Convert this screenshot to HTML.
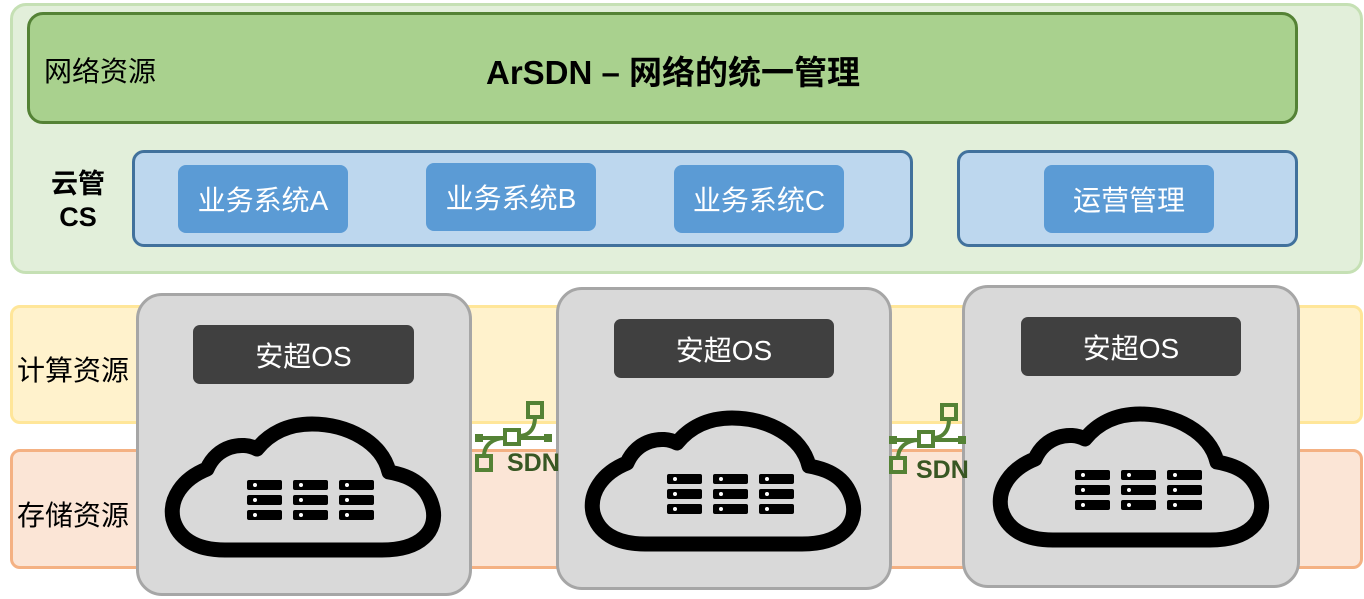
<!DOCTYPE html>
<html><head><meta charset="utf-8"><style>
body{margin:0;width:1364px;height:599px;background:#fff;position:relative;overflow:hidden;font-family:"Liberation Sans","Noto Sans CJK SC",sans-serif}
div{position:absolute;box-sizing:border-box}
.btn{background:#5b9bd5;border-radius:8px;color:#fff;font-size:28px;display:flex;align-items:center;justify-content:center}
.gray{background:#d9d9d9;border:3px solid #a6a6a6;border-radius:26px}
.os{background:#404040;border-radius:7px;color:#fff;font-size:28px;display:flex;align-items:center;justify-content:center}
.lbl{font-size:28px;color:#000}
</style></head><body>
<div style="left:10px;top:3px;width:1353px;height:271px;background:#e2efda;border:3px solid #c5e0b4;border-radius:16px"></div>
<div style="left:27px;top:12px;width:1271px;height:112px;background:#a9d18e;border:3px solid #548235;border-radius:16px"></div>
<div class="lbl" style="left:44px;top:50px">网络资源</div>
<div style="left:486px;top:46px;font-size:33px;font-weight:bold">ArSDN – 网络的统一管理</div>
<div style="left:46px;top:168px;font-size:27px;font-weight:bold;text-align:center;line-height:33px;width:64px">云管<br>CS</div>
<div style="left:132px;top:150px;width:781px;height:97px;background:#bdd7ee;border:3px solid #41719c;border-radius:12px"></div>
<div style="left:957px;top:150px;width:341px;height:97px;background:#bdd7ee;border:3px solid #41719c;border-radius:12px"></div>
<div class="btn" style="left:178px;top:165px;width:170px;height:68px">业务系统A</div>
<div class="btn" style="left:426px;top:163px;width:170px;height:68px">业务系统B</div>
<div class="btn" style="left:674px;top:165px;width:170px;height:68px">业务系统C</div>
<div class="btn" style="left:1044px;top:165px;width:170px;height:68px">运营管理</div>
<div style="left:10px;top:305px;width:1353px;height:119px;background:#fff2cc;border:3px solid #ffe699;border-radius:10px"></div>
<div style="left:10px;top:449px;width:1353px;height:120px;background:#fbe5d6;border:3px solid #f4b183;border-radius:10px"></div>
<div class="lbl" style="left:17px;top:349px">计算资源</div>
<div class="lbl" style="left:17px;top:494px">存储资源</div>
<div class="gray" style="left:136px;top:293px;width:336px;height:303px"></div>
<div class="gray" style="left:556px;top:287px;width:336px;height:303px"></div>
<div class="gray" style="left:962px;top:285px;width:338px;height:303px"></div>
<div class="os" style="left:193px;top:325px;width:221px;height:59px">安超OS</div>
<div class="os" style="left:614px;top:319px;width:220px;height:59px">安超OS</div>
<div class="os" style="left:1021px;top:317px;width:220px;height:59px">安超OS</div>
<svg width="1364" height="599" style="position:absolute;left:0;top:0">
<defs>
<g id="cloud">
<path d="M58,126 H215 C255,126 270,106 266,85 C261,62 245,52 222,48 C215,18 180,0 145,0 C120,0 102,10 90,25 C75,17 50,22 40,45 C15,55 2,75 6,95 C11,114 28,126 58,126 Z" fill="none" stroke="#000" stroke-width="15" stroke-linejoin="round"/>
<g fill="#000">
<rect x="80" y="56" width="35" height="10" rx="2"/><rect x="126" y="56" width="35" height="10" rx="2"/><rect x="172" y="56" width="35" height="10" rx="2"/>
<rect x="80" y="71" width="35" height="10" rx="2"/><rect x="126" y="71" width="35" height="10" rx="2"/><rect x="172" y="71" width="35" height="10" rx="2"/>
<rect x="80" y="86" width="35" height="10" rx="2"/><rect x="126" y="86" width="35" height="10" rx="2"/><rect x="172" y="86" width="35" height="10" rx="2"/>
</g>
<g fill="#fff"><circle cx="88" cy="61" r="2"/><circle cx="134" cy="61" r="2"/><circle cx="180" cy="61" r="2"/><circle cx="88" cy="76" r="2"/><circle cx="134" cy="76" r="2"/><circle cx="180" cy="76" r="2"/><circle cx="88" cy="91" r="2"/><circle cx="134" cy="91" r="2"/><circle cx="180" cy="91" r="2"/></g>
</g>
<g id="sdn" fill="none" stroke="#548235" stroke-width="4">
<rect x="53" y="2" width="14" height="14"/><rect x="30" y="29" width="14" height="14"/><rect x="2" y="55" width="14" height="14"/>
<path d="M8,37 H30 M44,37 H72 M60,16 C60,30 52,35 44,35 M9,55 C9,44 18,37 30,37"/>
<rect x="0" y="33" width="8" height="8" fill="#548235" stroke="none"/><rect x="69" y="33" width="8" height="8" fill="#548235" stroke="none"/>
</g>
</defs>
<use href="#cloud" transform="translate(167,424)"/>
<use href="#cloud" transform="translate(587,418)"/>
<use href="#cloud" transform="translate(995,414)"/>
<use href="#sdn" transform="translate(475,401)"/>
<use href="#sdn" transform="translate(889,403)"/>
<text x="507" y="471" font-family="Liberation Sans" font-weight="bold" font-size="25" fill="#385723">SDN</text>
<text x="916" y="478" font-family="Liberation Sans" font-weight="bold" font-size="25" fill="#385723">SDN</text>
</svg>
</body></html>
